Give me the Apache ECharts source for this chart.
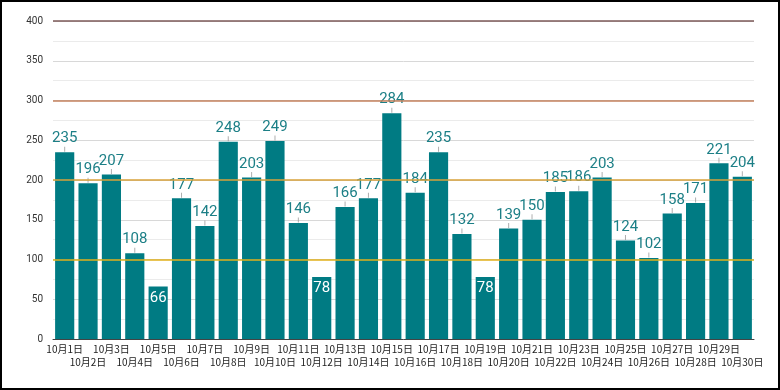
<!DOCTYPE html>
<html><head><meta charset="utf-8">
<script src="https://cdn.jsdelivr.net/npm/echarts@6/dist/echarts.min.js"></script>
<style>
html,body{margin:0;padding:0;background:#fff;}
#wrap{position:relative;width:780px;height:390px;}
#c{width:780px;height:390px;}
#frame{position:absolute;left:0;top:0;width:780px;height:390px;box-sizing:border-box;border:2px solid #000;pointer-events:none;}
</style></head>
<body>
<div id="wrap"><div id="c"></div><div id="frame"></div></div>
<script>
const categories = ['10月1日','10月2日','10月3日','10月4日','10月5日','10月6日','10月7日','10月8日','10月9日','10月10日',
 '10月11日','10月12日','10月13日','10月14日','10月15日','10月16日','10月17日','10月18日','10月19日','10月20日',
 '10月21日','10月22日','10月23日','10月24日','10月25日','10月26日','10月27日','10月28日','10月29日','10月30日'];
const values = [235,196,207,108,66,177,142,248,203,249,146,78,166,177,284,184,235,132,78,139,150,185,186,203,124,102,158,171,221,204];
const yTicks = [0,50,100,150,200,250,300,350,400];
const refLines = [
  {v:100, color:'#e2b01a'},
  {v:200, color:'#d9a23a'},
  {v:300, color:'#c4825e'},
  {v:400, color:'#7c5a58'}
];
const insideLimit = 80;

const barData = values.map(v => v < insideLimit ? {
  value: v,
  label: {position:'insideTop', color:'#ffffff', distance:4}
} : v);
const tickData = values.map(v => v < insideLimit ? '-' : v);

const chart = echarts.init(document.getElementById('c'));
chart.setOption({
  animation:false,
  backgroundColor:'#fff',
  grid:{left:53, right:26, top:21, bottom:51, containLabel:false},
  xAxis:{
    type:'category', data:categories,
    axisTick:{show:false},
    axisLine:{lineStyle:{color:'#444', width:1}},
    axisLabel:{interval:0, color:'#222', fontSize:10, lineHeight:13,
      fontFamily:'"Noto Sans CJK SC", sans-serif', margin:4,
      formatter:(v,i)=> i%2===1 ? '\n'+v : v}
  },
  yAxis:{
    type:'value', min:yTicks[0], max:yTicks[yTicks.length-1], interval:50,
    axisLine:{show:false}, axisTick:{show:false},
    axisLabel:{color:'#333', fontSize:10, fontFamily:'Roboto, sans-serif', margin:10},
    splitLine:{lineStyle:{color:'#d8d8d8', width:1}},
    minorTick:{show:false, splitNumber:2},
    minorSplitLine:{show:true, lineStyle:{color:'#ebebeb', width:1}}
  },
  series:[
    {
      type:'bar', data:barData, barCategoryGap:'18%',
      itemStyle:{color:'#007b83'},
      label:{show:true, position:'top', distance:6, color:'#1c7f86', fontSize:15,
        fontFamily:'Roboto, sans-serif'},
      markLine:{
        silent:true, symbol:'none', label:{show:false}, z:5,
        data: refLines.map(r=>({yAxis:r.v, lineStyle:{color:r.color, width:1.6, type:'solid'}}))
      }
    },
    {
      type:'scatter', data:tickData, symbol:'rect', symbolSize:[1,5],
      symbolOffset:[0,-3], itemStyle:{color:'#9a9a9a'}, silent:true, z:3
    }
  ]
});
</script>
</body></html>
